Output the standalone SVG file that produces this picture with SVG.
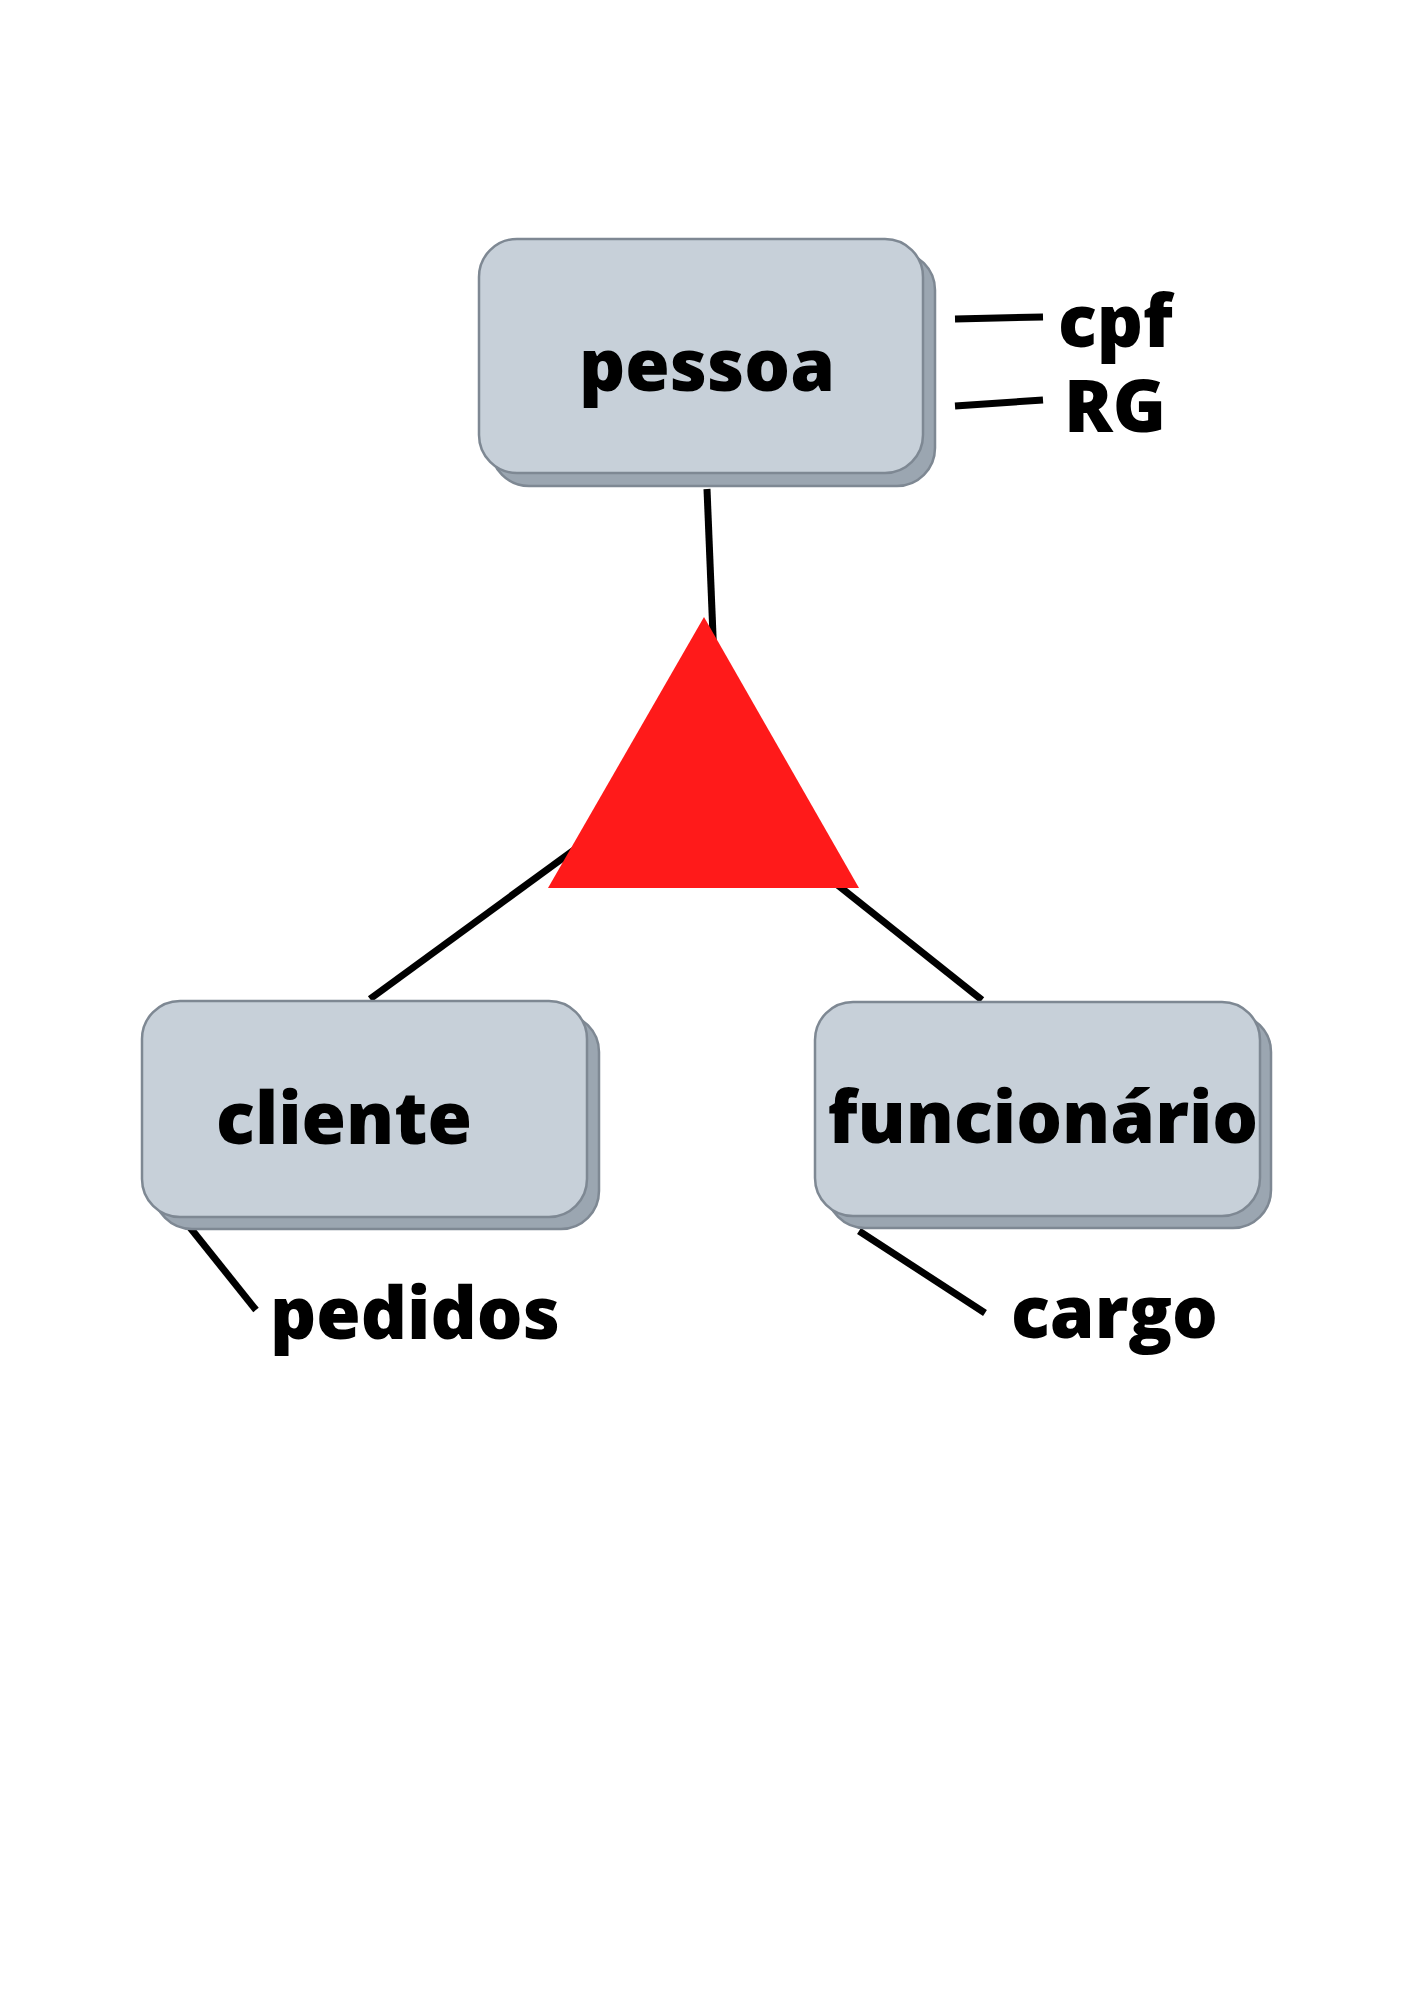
<svg xmlns="http://www.w3.org/2000/svg" width="1414" height="2000" viewBox="0 0 1414 2000">
<style>
.shadow{fill:#9ba6b1;stroke:#7e8893;stroke-width:2.5}
.box{fill:#c7d0d9;stroke:#7e8893;stroke-width:2.5}
.lbl{font-family:"Open Sans","DejaVu Sans",sans-serif;font-weight:800;font-size:72px;fill:#000}
.ln{stroke:#000;stroke-width:7;fill:none}
</style>
<rect width="1414" height="2000" fill="#fff"/>
<g id="connectors">
<line class="ln" x1="707" y1="489" x2="714" y2="660"/>
<line class="ln" x1="370" y1="999" x2="600" y2="831"/>
<line class="ln" x1="820" y1="871" x2="982" y2="1000"/>
<line class="ln" x1="955" y1="319" x2="1043" y2="317"/>
<line class="ln" x1="955" y1="406" x2="1043" y2="400"/>
<line class="ln" x1="188" y1="1225" x2="256" y2="1310"/>
<line class="ln" x1="859" y1="1231" x2="985" y2="1313"/>
</g>
<g id="triangle">
<polygon points="704,617 548,888 859,888" fill="#ff1a1a"/>
</g>
<g id="pessoa">
<rect class="shadow" x="491" y="252" width="444" height="234" rx="38"/>
<rect class="box" x="479" y="239" width="444" height="234" rx="38"/>
<text class="lbl" x="707" y="391" text-anchor="middle">pessoa</text>
</g>
<g id="cliente">
<rect class="shadow" x="154" y="1014" width="445" height="215" rx="38"/>
<rect class="box" x="142" y="1001" width="445" height="216" rx="38"/>
<text class="lbl" x="344" y="1144" text-anchor="middle">cliente</text>
</g>
<g id="funcionario">
<rect class="shadow" x="827" y="1014" width="444" height="214" rx="38"/>
<rect class="box" x="815" y="1002" width="445" height="214" rx="38"/>
<text class="lbl" x="1043" y="1143" text-anchor="middle">funcionário</text>
</g>
<g id="attributes">
<text class="lbl" x="1058" y="347">cpf</text>
<text class="lbl" x="1064" y="432">RG</text>
<text class="lbl" x="270" y="1339">pedidos</text>
<text class="lbl" x="1011" y="1338">cargo</text>
</g>
</svg>
